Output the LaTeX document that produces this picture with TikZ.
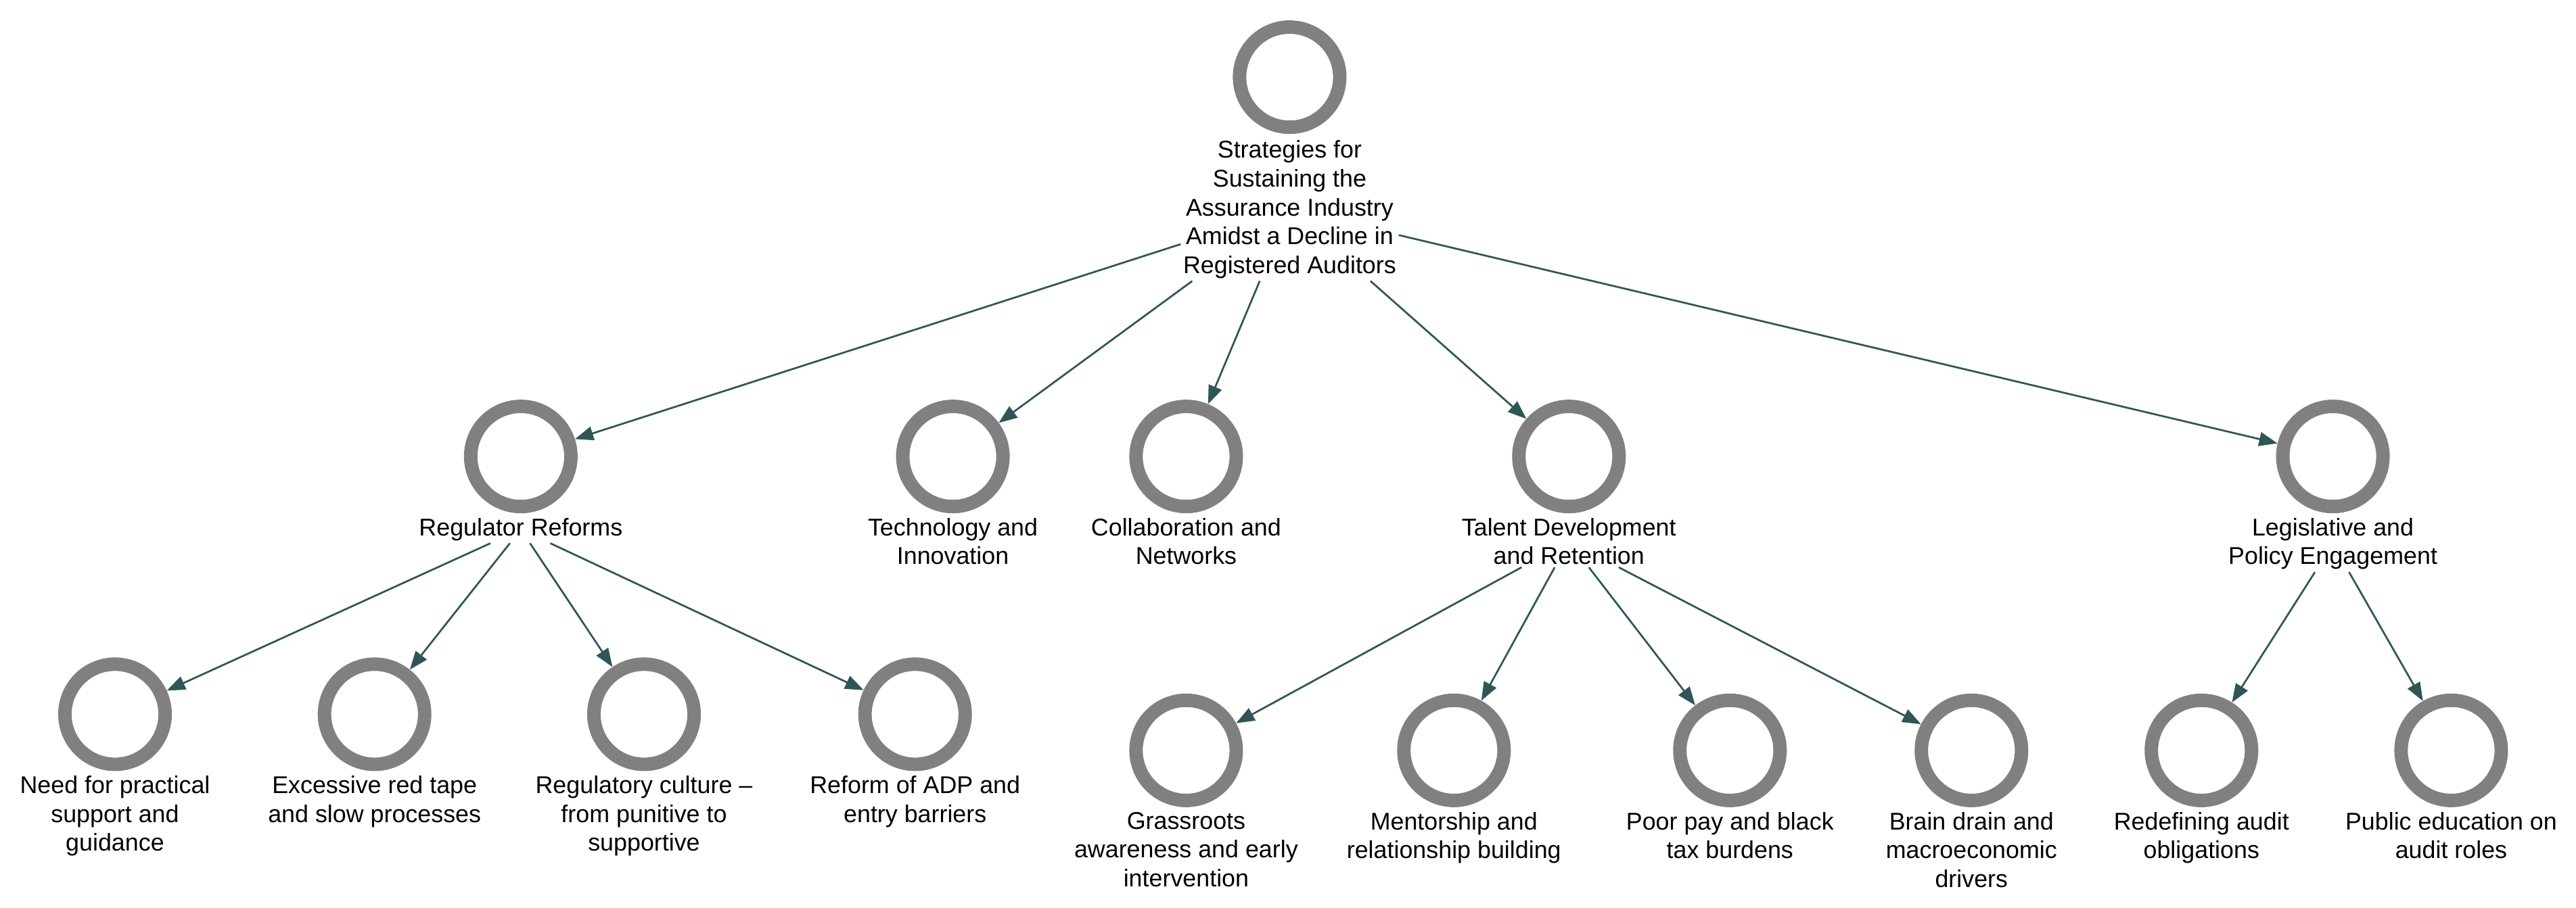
\documentclass[tikz,border=0pt]{standalone}
\usepackage{fontspec}
\setmainfont{Liberation Sans}
\usetikzlibrary{arrows.meta}
\begin{document}
\begin{tikzpicture}[x=0.05cm,y=-0.05cm,
  ring/.style={circle,draw=black!50,line width=0.41cm,minimum size=3.05cm,inner sep=0pt},
  lab/.style={align=center,font=\fontsize{21}{25}\selectfont,inner sep=2pt,anchor=north},
  arr/.style={draw=black!40!teal!60!black,line width=1.6pt,-{Triangle[length=16pt,width=12pt]},shorten >=2pt}]
\useasboundingbox (0,0) rectangle (1568,552.6);
\definecolor{ac}{HTML}{2F5656}
\tikzset{arr/.style={draw=ac,line width=1.6pt,-{Triangle[length=16pt,width=12pt]}}}
% nodes
\node[ring] (r) at (785,47) {};
\node[lab] (rl) at (785,84) {Strategies for\\Sustaining the\\Assurance Industry\\Amidst a Decline in\\Registered Auditors};
\foreach \n/\x/\y/\t in {a/317/278/{Regulator Reforms},b/580/278/{Technology and\\Innovation},c/722/278/{Collaboration and\\Networks},d/955/278/{Talent Development\\and Retention},e/1420/278/{Legislative and\\Policy Engagement},
 a1/70/435/{Need for practical\\support and\\guidance},a2/228/435/{Excessive red tape\\and slow processes},a3/392/435/{Regulatory culture --\\from punitive to\\supportive},a4/557/435/{Reform of ADP and\\entry barriers},
 d1/722/457/{Grassroots\\awareness and early\\intervention},d2/885/457/{Mentorship and\\relationship building},d3/1053/457/{Poor pay and black\\tax burdens},d4/1200/457/{Brain drain and\\macroeconomic\\drivers},
 e1/1340/457/{Redefining audit\\obligations},e2/1492/457/{Public education on\\audit roles}}{
  \node[ring] (\n) at (\x,\y) {};
  \node[lab] (\n l) at (\x,\y+36) {\t};
}
\foreach \p/\c in {rl/a,rl/b,rl/c,rl/d,rl/e,al/a1,al/a2,al/a3,al/a4,dl/d1,dl/d2,dl/d3,dl/d4,el/e1,el/e2}{
  \draw[arr] (\p) -- (\c);
}
\end{tikzpicture}
\end{document}
